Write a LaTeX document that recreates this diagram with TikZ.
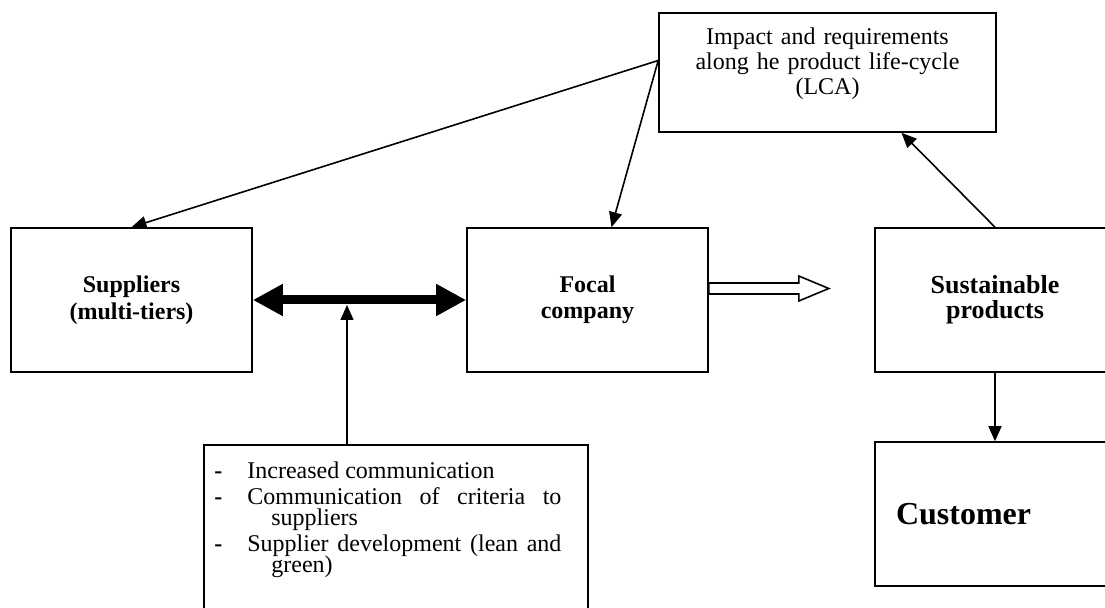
\documentclass[tikz,border=0pt]{standalone}
\usepackage{fontspec}
\setmainfont{Liberation Serif}
\usetikzlibrary{arrows.meta}
\newcommand{\dashitem}{\par\hangindent=28.5pt\hangafter=1\makebox[16.5pt][l]{\textbf{-}}}

\begin{document}
\begin{tikzpicture}[x=0.5pt,y=-0.5pt,
  box/.style={draw,line width=0.8pt,minimum width=120.5pt,minimum height=72pt,align=center,inner sep=0pt},
  arr/.style={line width=0.8pt,-{Triangle[length=7.5pt,width=6.5pt]}},
  bigarr/.style={line width=4.5pt,{Triangle[length=15pt,width=15pt]}-{Triangle[length=15pt,width=15pt]}},
  hollow/.style={line width=0.8pt,fill=white,line join=miter}]
  \useasboundingbox (0,0) rectangle (1105,608);
  \clip (0,0) rectangle (1105,608);
  \node[box,font=\fontsize{12}{13.5}\selectfont\bfseries] (suppliers) at (131.5,300) {Suppliers\\(multi-tiers)};
  \node[box,font=\fontsize{12}{13}\selectfont\bfseries] (focal) at (587.5,300) {Focal\\company};
  \node[box,minimum width=120pt,font=\fontsize{13}{12.5}\selectfont\bfseries] (products) at (995,300) {Sustainable\\products};
  \node[box,minimum width=120pt,text width=99pt,inner xsep=10.5pt,align=left,font=\fontsize{16}{18}\selectfont\bfseries] (customer) at (995,514) {Customer};
  \node[box,minimum width=168.5pt,minimum height=59.5pt] (lca) at (827.5,72.5) {};
  \node[anchor=base,text width=168pt,align=center,inner sep=0pt,font=\fontsize{12}{12.5}\selectfont] (lcatext) at (827.5,45)
    {Impact and requirements\\along he product life-cycle\\(LCA)};
  \node[box,anchor=north west,minimum width=192pt,minimum height=100pt] (actions) at (203,444) {};
  \node[anchor=base west,text width=173.5pt,align=justify,inner sep=0pt,font=\fontsize{12}{10.5}\selectfont] (actionlist) at (214,458)
    {\tolerance=10000\hyphenpenalty=10000\lineskiplimit=-20pt
     \dashitem Increased communication\parskip=2.5pt
     \dashitem Communication of criteria to suppliers
     \dashitem Supplier development (lean and green)\par};
  \coordinate (hub) at (347,305);
  \draw[bigarr] (suppliers.east) -- (focal.west);
  \draw[arr] (actions.north -| hub) -- (hub);
  \draw[hollow] ([yshift=8.5pt]focal.east) -- ++(90,0) -- ++(0,-7) -- ++(30,12.5) -- ++(-30,12.5) -- ++(0,-7) -- ++(-90,0) -- cycle;
  \draw[arr] ([yshift=6pt]lca.west) -- (suppliers.north);
  \draw[arr] ([yshift=6pt]lca.west) -- ([xshift=12pt]focal.north);
  \draw[arr] (products.north) -- ([xshift=37pt]lca.south);
  \draw[arr] (products.south) -- (customer.north);
\end{tikzpicture}
\end{document}
